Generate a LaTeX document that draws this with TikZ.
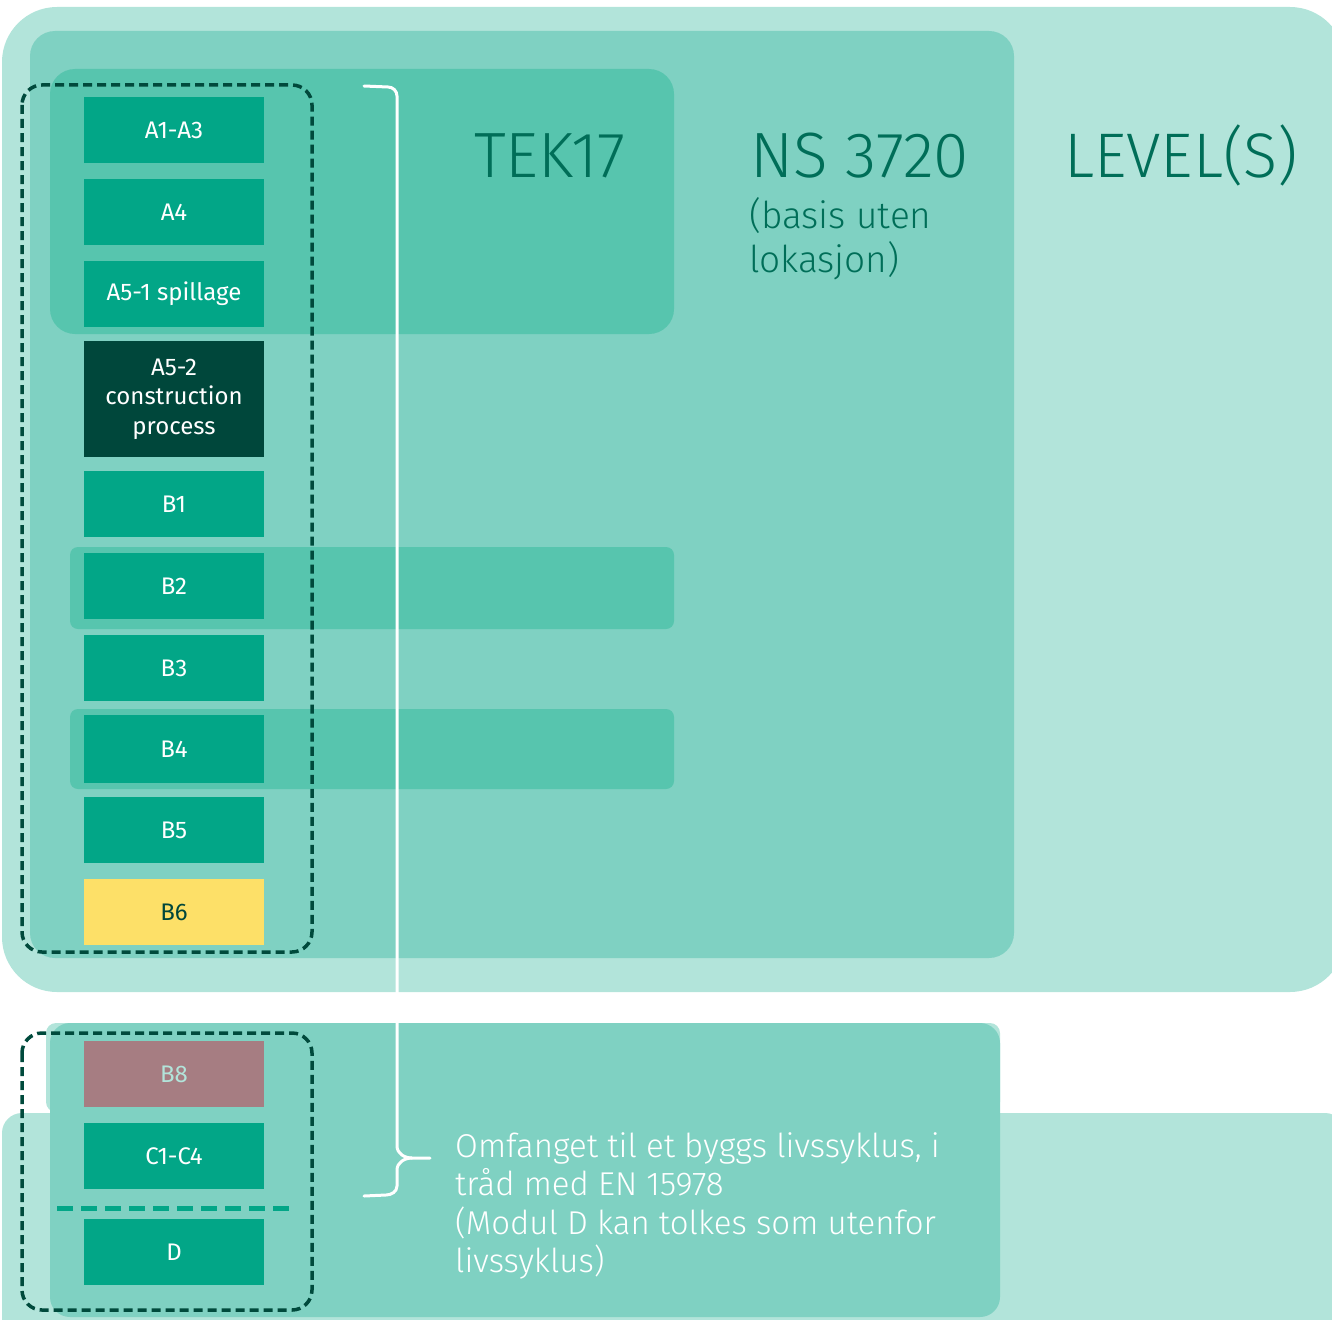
\documentclass[tikz,border=0pt]{standalone}
\usepackage{fontspec}
\setmainfont{Fira Sans}
\newfontfamily\firalight{Fira Sans Light}
\usepackage{xcolor}
\usetikzlibrary{positioning}
\definecolor{lvlLight}{HTML}{B2E4DA}
\definecolor{nsMid}{HTML}{7FD1C2}
\definecolor{tekBand}{HTML}{57C5AE}
\definecolor{modGreen}{HTML}{02A687}
\definecolor{modDark}{HTML}{00473B}
\definecolor{modYellow}{HTML}{FDE068}
\definecolor{modMauve}{HTML}{A67D82}
\definecolor{frameDark}{HTML}{004A3C}
\definecolor{titleInk}{HTML}{006E58}

\begin{document}
\begin{tikzpicture}[
    x=1pt, y=-1pt,
    every node/.style={font=\fontsize{24}{29.5}\selectfont, inner sep=0pt},
    module/.style={fill=modGreen, text=white, minimum width=180pt, minimum height=66pt, align=center},
    level/.style={rounded corners=#1},
    title/.style={font=\firalight\fontsize{64}{64}\selectfont, text=titleInk, anchor=base west},
    scopebox/.style={draw=frameDark, line width=3.5pt, dash pattern=on 9pt off 5pt, rounded corners=20pt},
    brace/.style={draw=white, line width=3pt, line cap=round},
]
  \useasboundingbox (0,0) rectangle (1332,1319);
  % background levels
  \fill[lvlLight, level=55pt] (2,7) rectangle (1345,992);
  \fill[lvlLight, level=20pt] (2,1113) rectangle (1345,1340);
  \fill[nsMid, level=25pt] (30,31) rectangle (1014,958);
  \fill[lvlLight, level=10pt] (46,1023) rectangle (1000,1112);
  \fill[nsMid, level=20pt] (50,1023) rectangle (1000,1317);
  \fill[tekBand, level=25pt] (50,69) rectangle (674,334);
  \fill[tekBand, level=8pt] (70,547) rectangle (674,629);
  \fill[tekBand, level=8pt] (70,709) rectangle (674,789);
  % titles
  \node[title] (tek) at (474,177) {TEK17};
  \node[title] (ns) at (750,177) {NS 3720};
  \node[title, font=\firalight\fontsize{63}{63}\selectfont] (lvl) at (1064,177) {LEVEL(S)};
  \node[font=\firalight\fontsize{37}{44}\selectfont, text=titleInk, anchor=north west, align=left] (nsnote) at (749,197) {(basis uten\\lokasjon)};
  % modules
  \node[module] (a13) at (174,130) {A1-A3};
  \node[module] (a4) at (174,212) {A4};
  \node[module] (a51) at (174,294) {A5-1 spillage};
  \node[module, fill=modDark, minimum height=116pt] (a52) at (174,399) {A5-2\\construction\\process};
  \node[module] (b1) at (174,504) {B1};
  \node[module] (b2) at (174,586) {B2};
  \node[module] (b3) at (174,668) {B3};
  \node[module, minimum height=68pt] (b4) at (174,749) {B4};
  \node[module] (b5) at (174,830) {B5};
  \node[module, fill=modYellow, text=modDark] (b6) at (174,912) {B6};
  \node[module, fill=modMauve, text=lvlLight] (b8) at (174,1074) {B8};
  \node[module] (c14) at (174,1156) {C1-C4};
  \node[module] (d) at (174,1252) {D};
  % dashed frames
  \draw[scopebox] (22,85) rectangle (312,952);
  \draw[scopebox] (22,1033) rectangle (312,1310);
  \draw[modGreen, line width=5pt, dash pattern=on 16pt off 8pt] (57,1208) -- (290,1208);
  % lifecycle brace
  \draw[brace] (364,86) -- (388,87) to[out=0,in=90] (397,96) -- (397,1146)
    to[out=-90,in=180] (412,1158) -- (430,1158);
  \draw[brace] (412,1158) to[out=180,in=90] (397,1170) -- (397,1186)
    to[out=-90,in=0] (386,1195) -- (364,1196);
  \node[font=\firalight\fontsize{33}{38.5}\selectfont, text=white, anchor=north west, align=left] (scope) at (455,1132)
    {Omfanget til et byggs livssyklus, i\\tråd med EN 15978\\(Modul D kan tolkes som utenfor\\livssyklus)};
\end{tikzpicture}
\end{document}
